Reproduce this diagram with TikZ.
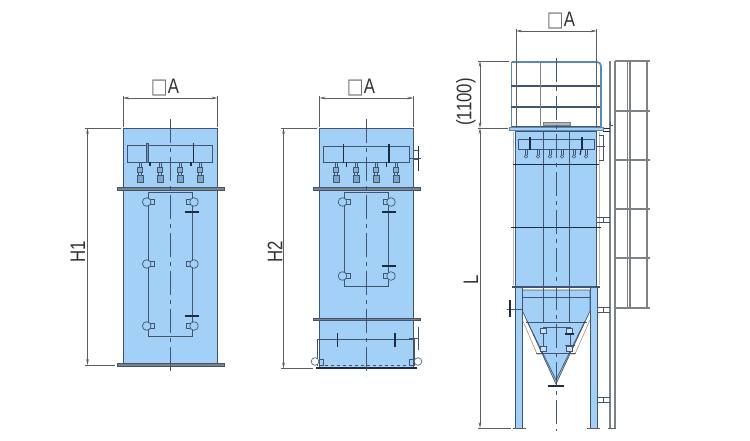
\documentclass[tikz,border=0pt]{standalone}
\usepackage{fontspec}
\setmainfont{Liberation Sans}
\newfontfamily\lblfont{Liberation Sans}[FakeStretch=0.8]
\newfontfamily\boxfont{DejaVu Sans}[FakeStretch=0.85]
\usetikzlibrary{arrows.meta}
\definecolor{bodyblue}{HTML}{A3D0F7}
\definecolor{edge}{HTML}{41566E}
\definecolor{dark}{HTML}{1E2C40}
\definecolor{dimc}{HTML}{5A5F66}
\definecolor{rail}{HTML}{7C8286}
\definecolor{railblue}{HTML}{5C88B4}
\newcommand{\sqA}{{\boxfont\color{black!55}\fontsize{21}{21}\selectfont □}A}
\tikzset{
 body/.style={fill=bodyblue,draw=edge,line width=.7pt},
 ln/.style={draw=edge,line width=.7pt},
 heavy/.style={draw=dark,line width=1.1pt},
 flangebar/.style={fill=rail,draw=edge,line width=.4pt},
 center/.style={draw=edge,line width=.7pt,dash pattern=on 24pt off 5pt on 4pt off 5pt},
 dimline/.style={draw=dimc,line width=.55pt,{Stealth[length=6pt,width=2.6pt]}-{Stealth[length=6pt,width=2.6pt]}},
 ext/.style={draw=dimc,line width=.55pt},
 lbl/.style={text=black!80,inner sep=0pt,font=\lblfont\fontsize{21}{21}\selectfont},
 ladder/.style={draw=rail,line width=1.2pt},
 rung/.style={draw=rail,line width=2pt},
 guard/.style={draw=railblue,line width=1.7pt},
 pics/valve/.style={code={
   \draw[ln,line width=.5pt] (-1,0)--(-1,5) (1,0)--(1,5);
   \draw[ln,line width=.5pt,fill=bodyblue!75!edge] (-2.5,5) rectangle (2.5,10);
   \draw[ln,line width=.5pt] (-1.5,10)--(-1.5,13) (1.5,10)--(1.5,13);
   \draw[ln,line width=.5pt,fill=bodyblue!65!edge] (-3,13) rectangle (3,20);
 }},
 pics/tube/.style={code={
   \draw[ln,line width=.6pt] (-1,0)--(-1,6) (1,0)--(1,6);
   \draw[ln,line width=.6pt] (0,7.5) circle (1.7);
 }},
 pics/lportl/.style={code={
   \draw[ln,fill=bodyblue] (3,-2.3) rectangle (8,2.3);
   \draw[ln,fill=bodyblue] (0,0) circle (4.3);
 }},
 pics/lportr/.style={code={
   \draw[ln,fill=bodyblue] (-8,-2.3) rectangle (-3,2.3);
   \draw[ln,fill=bodyblue] (0,0) circle (4.3);
 }},
 pics/mark/.style={code={
   \draw[heavy] (0,0)--(14,0);
   \draw[dark,line width=2pt] (9,0)--(14,0);
 }}
}
\begin{document}
\begin{tikzpicture}[x=1pt,y=-1pt]
\useasboundingbox (0,0) rectangle (750,441);
\fill[white] (0,0) rectangle (750,441);

% ---------- left unit
\path[body] (123,128) rectangle (217.5,364);
\path[flangebar] (117,187) rectangle (224,190);
\path[flangebar] (117,363) rectangle (224,366);
\path[ln] (127.5,145) rectangle (212.5,162);
\path[ln] (148.5,192) rectangle (192.5,336);
\foreach \x in {140,160,180,200} \pic at (\x,162) {valve};
\foreach \y in {202,264,326}{
  \pic at (146.7,\y) {lportl};
  \pic at (194,\y) {lportr};
}
\pic at (185,212) {mark};
\pic at (185,316) {mark};
\draw[ln,fill=bodyblue!50!edge] (146,143) rectangle (148.5,162);
\draw[heavy] (150,162)--(150,166);
\draw[dark,line width=1.5pt] (193.5,143)--(193.5,162);
\draw[heavy] (191,162)--(191,166);
\draw[center] (170.5,119)--(170.5,376);

% left dimensions
\coordinate (la1) at (123,98);\coordinate (la2) at (217.5,98);
\coordinate (la1t) at (123,127);\coordinate (la2t) at (217.5,127);
\draw[ext] (123,96)--(la1t) (217.5,96)--(la2t);
\draw[dimline] (la1)--(la2);
\node[lbl] (ta1) at (165,88) {\sqA};
\coordinate (h1a) at (87.5,128);\coordinate (h1b) at (87.5,365);
\draw[ext] (85,128)--(121,128) (85,365)--(115,365);
\draw[dimline] (h1a)--(h1b);
\node[lbl,rotate=90] (th1) at (78,252) {H1};

% ---------- middle unit
\path[body] (319.5,128) rectangle (413.5,367);
\path[flangebar] (313,187) rectangle (420,190);
\path[flangebar] (313,318) rectangle (420,320.5);
\path[ln] (323,146) rectangle (409.5,162);
\path[ln] (344.5,192) rectangle (388.5,286);
\foreach \x in {336,356,376,396} \pic at (\x,162) {valve};
\foreach \y in {202,276}{
  \pic at (342.5,\y) {lportl};
  \pic at (391,\y) {lportr};
}
\pic at (382,212) {mark};
\pic at (382,266) {mark};
\draw[dark,line width=1.4pt] (343.5,144)--(343.5,163) (389,144)--(389,163);
\draw[heavy] (346.5,162)--(346.5,167) (386.5,162)--(386.5,167);
% side flange top
\draw[ln] (413.5,150)--(418.5,150) (413.5,159)--(418.5,159);
\draw[dark,line width=1.2pt] (418.5,146)--(418.5,171);
\draw[ln] (410,158.5)--(421,158.5);
% bottom box
\draw[ln] (317.5,366)--(317.5,339)--(414,339)--(414,366);
\draw[dark,line width=1.3pt] (337.5,333)--(337.5,347) (395,333)--(395,347);
\draw[ln] (409,338)--(419,338);
\draw[ln,line width=.6pt] (418,327)--(418,350);
\draw[ln,fill=bodyblue] (319.5,359) rectangle (323.5,365);
\draw[ln,fill=bodyblue] (409.5,359) rectangle (413.5,365);
\draw[draw=edge,fill=white,line width=.6pt] (315,361.5) circle (3.8);
\draw[draw=edge,fill=white,line width=.6pt] (418,361.5) circle (3.8);
\draw[ln,dashed] (319,365)--(413.5,365);
\draw[dark,line width=1.6pt] (316,368)--(417,368);
\draw[center] (366.5,119)--(366.5,376);

% middle dimensions
\coordinate (ma1) at (319.5,98);\coordinate (ma2) at (413.5,98);
\coordinate (ma1t) at (319.5,127);\coordinate (ma2t) at (413.5,127);
\draw[ext] (319.5,96)--(ma1t) (413.5,96)--(ma2t);
\draw[dimline] (ma1)--(ma2);
\node[lbl] (ta2) at (361,88) {\sqA};
\coordinate (h2a) at (283.5,128);\coordinate (h2b) at (283.5,368.5);
\draw[ext] (281,128)--(317,128) (281,368.5)--(313,368.5);
\draw[dimline] (h2a)--(h2b);
\node[lbl,rotate=90] (th2) at (275,252) {H2};

% ---------- right unit: side rails, ladder
\draw[draw=rail!55,line width=1pt] (513,132)--(513,285);
\draw[draw=rail!55,line width=1pt] (599,132)--(599,285);
\draw[ladder] (610,61)--(610,428) (615,61)--(615,428);
\draw[ladder] (627.7,61)--(627.7,308) (630,61)--(630,308);
\draw[draw=rail,line width=2.2pt] (646.7,61)--(646.7,308);
\foreach \y in {61.5,111,160,209,258,308} \draw[rung] (615,\y)--(650,\y);
\foreach \y in {220,310,400}{
  \draw[ln,line width=.55pt] (597,\y-2.5)--(610,\y-2.5) (597,\y+2.5)--(610,\y+2.5) (603,\y-2.5)--(603,\y+2.5);
}
\draw[dark,line width=.8pt] (603,128)--(610,128) (603,131)--(610,131);
\draw[ln] (610,122)--(610,125)--(613,125);

% right unit: body
\path[body] (515.7,131) rectangle (596.7,287);
\path[body] (515.5,287) rectangle (522.5,428);
\path[body] (590,287) rectangle (597,428);
\path[fill=bodyblue,draw=edge,line width=.7pt] (522.5,290)--(590,290)--(590,311)--(556,384)--(522.5,311)--cycle;
\path[ln] (543,131)--(543,322) (569.5,131)--(569.5,322);
\path[ln] (522.5,297)--(590,297);
\path[ln] (526,322)--(587,322);
\path[ln] (536,353)--(576,353);
\path[ln] (527,321)--(556,380)--(585,321);
\path[ln] (543,327)--(570,327)--(570,352) (543,327)--(543,352);
% brace
\draw[draw=brown!60!gray,line width=.5pt] (522.5,320)--(537,354)--(541,354);
\draw[draw=brown!60!gray,line width=.5pt] (590,320)--(575,354)--(571,354);
% hopper ports
\draw[ln,fill=white!40!bodyblue] (540,328) rectangle (546,333);
\draw[ln,fill=white!40!bodyblue] (566,328) rectangle (572,333);
\draw[ln,fill=white!40!bodyblue] (540,346) rectangle (546,351);
\draw[ln,fill=white!40!bodyblue] (566,346) rectangle (572,351);
\draw[heavy] (565,334)--(574,334);
\draw[ln] (565,345)--(575,345);
\draw[ln,line width=.5pt] (570,335)--(570,346);
\draw[dark,line width=1.4pt] (548,386)--(564,386);
% left outlet
\draw[ln] (507,309)--(522,309);
\draw[dark,line width=1.2pt] (510,300)--(510,317);
% manifold
\path[ln] (518,139) rectangle (594,149);
\foreach \x in {526,538,550,562,574,586} \pic at (\x,149) {tube};
\draw[dark,line width=1.4pt] (530,137)--(530,150) (582,137)--(582,150);
\draw[heavy] (581,150)--(580,155);
% flanges
\draw[dark,line width=1pt] (513,165)--(599,165);
\draw[dark,line width=1pt] (511,227)--(601,227);
\draw[draw=edge,line width=2.2pt] (512,287)--(600,287);
% side flange
\draw[ln,line width=.5pt] (599,135)--(603,135)--(603,160)--(599,160);
\draw[ln,line width=.5pt] (597,146)--(605,146);
% platform & guard
\path[fill=bodyblue,draw=railblue,line width=1pt] (509,128) rectangle (603,131);
\draw[fill=rail!60,draw=rail,line width=.5pt] (543,122) rectangle (570,125);
\draw[draw=edge,line width=1.4pt] (512,126.5)--(601,126.5);
\draw[guard] (511.5,128)--(511.5,62);
\draw[guard] (511.5,62)--(597,62) to[out=0,in=90] (601,66)--(601,128);
\draw[draw=edge,line width=1.2pt] (511,86)--(600,86) (511,107)--(600,107);
\draw[draw=rail,line width=1.7pt] (540.5,62)--(540.5,128);
\draw[center] (556,58)--(556,431);

% right dimensions
\coordinate (ra1) at (516,31);\coordinate (ra2) at (596.7,31);
\draw[ext] (516,29)--(516,128) (596.7,29)--(596.7,128);
\draw[dimline] (ra1)--(ra2);
\node[lbl] (ta3) at (561,21) {\sqA};
\coordinate (da) at (480,61);\coordinate (db) at (480,128);\coordinate (dc) at (480,428);
\draw[ext] (478,61)--(509,61) (478,128)--(508,128) (478,428.5)--(511,428.5);
\draw[ext] (513,428.5)--(526,428.5) (587,428.5)--(600,428.5) (608,428.5)--(616,428.5);
\draw[dimline] (da)--(db);
\draw[dimline] (db)--(dc);
\node[lbl,rotate=90] (t1100) at (466,102) {(1100)};
\node[lbl,rotate=90] (tl) at (471,280) {L};
\end{tikzpicture}
\end{document}
